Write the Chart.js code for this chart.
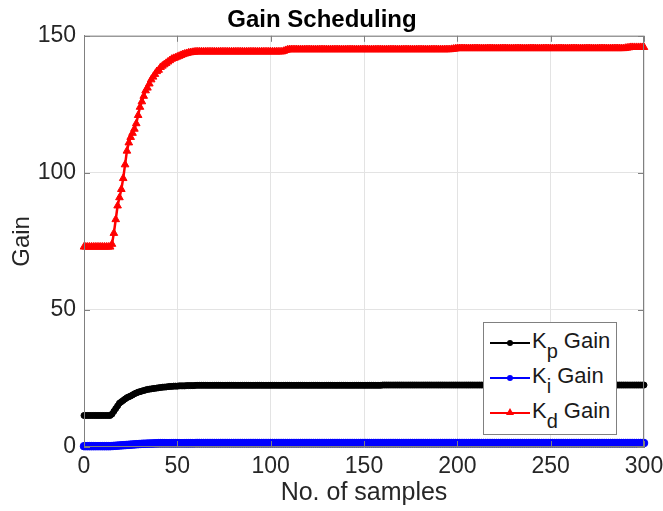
<!DOCTYPE html>
<html>
<head>
<meta charset="utf-8">
<script src="https://cdn.jsdelivr.net/npm/chart.js@4.4.1/dist/chart.umd.min.js"></script>
<style>
  body { margin: 0; background: #fff; }
  #wrap { position: relative; width: 663px; height: 511px; }
  #legend {
    position: absolute; left: 483px; top: 322px; width: 132px; height: 111px;
    background: #fff; border: 1px solid #808080;
    font-family: 'Liberation Sans', Arial, sans-serif; font-size: 22px; color: #1a1a1a;
  }
  #legend .row { position: absolute; left: 0; height: 30px; width: 100%; }
  #legend .line { position: absolute; left: 6px; top: 14px; width: 40px; height: 2px; }
  #legend .dot { position: absolute; left: 23px; top: 12px; width: 6px; height: 6px; border-radius: 50%; }
  #legend .tri { position: absolute; left: 22px; top: 10px; width: 0; height: 0;
    border-left: 4px solid transparent; border-right: 4px solid transparent; border-bottom: 7px solid; }
  #legend .txt { position: absolute; left: 48px; top: 0px; white-space: nowrap; }
  #legend sub { font-size: 20px; vertical-align: -10px; line-height: 0; margin-right: 6px; }
</style>
</head>
<body>
<div id="wrap">
  <canvas id="chart" width="663" height="511"></canvas>
  <div id="legend"></div>
</div>
<script>
// Kd gain (red, triangles), samples 0..300
const kdGain = [
  73,73,73,73,73,73,73,73,73,73,73,73,73,73,73,74,78,83,88,91,
  94,98,103,108,111,113,114.5,116,118,121,124,126,128,130,131,132.5,134,135,136,137,
  137.5,138.5,139,139.5,140,140.5,141,141.5,141.8,142,142.3,142.6,142.9,143.2,143.4,143.6,143.8,143.9,144,144.1,
  144.2,144.2,144.2,144.2,144.2,144.2,144.2,144.2,144.2,144.2,144.2,144.2,144.2,144.2,144.2,144.2,144.2,144.2,144.2,144.2,
  144.2,144.2,144.2,144.2,144.2,144.2,144.2,144.2,144.2,144.2,144.2,144.2,144.2,144.2,144.2,144.2,144.2,144.2,144.2,144.2,
  144.2,144.2,144.2,144.2,144.2,144.2,144.2,144.4,144.7,144.9,145,145,145,145,145,145,145,145,145,145,
  145,145,145,145,145,145,145,145,145,145,145,145,145,145,145,145,145,145,145,145,
  145,145,145,145,145,145,145,145,145,145,145,145,145,145,145,145,145,145,145,145,
  145,145,145,145,145,145,145,145,145,145,145,145,145,145,145,145,145,145,145,145,
  145,145,145,145,145,145,145,145,145,145,145,145,145,145,145,145,145,145.1,145.2,145.3,
  145.4,145.4,145.4,145.4,145.4,145.4,145.4,145.4,145.4,145.4,145.4,145.4,145.4,145.4,145.4,145.4,145.4,145.4,145.4,145.4,
  145.4,145.4,145.4,145.4,145.4,145.4,145.4,145.4,145.4,145.4,145.4,145.4,145.4,145.4,145.4,145.4,145.4,145.4,145.4,145.4,
  145.4,145.4,145.4,145.4,145.4,145.4,145.4,145.4,145.4,145.4,145.4,145.4,145.4,145.4,145.4,145.4,145.4,145.4,145.4,145.4,
  145.4,145.4,145.4,145.4,145.4,145.4,145.4,145.4,145.4,145.4,145.4,145.4,145.4,145.4,145.4,145.4,145.4,145.4,145.4,145.4,
  145.4,145.4,145.4,145.4,145.4,145.4,145.4,145.4,145.4,145.4,145.5,145.6,145.7,145.8,145.8,145.8,145.8,145.8,145.8,145.8,
  145.8
];

// Kp gain (black, dots)
const kpGain = [
  11.5,11.5,11.5,11.5,11.5,11.5,11.5,11.5,11.5,11.5,11.5,11.5,11.5,11.5,11.5,12,13,14,15,16,
  16.5,17,17.5,18,18.3,18.6,19,19.4,19.7,20,20.2,20.4,20.6,20.8,21,21.1,21.2,21.3,21.4,21.5,
  21.6,21.7,21.8,21.85,21.9,22,22.1,22.1,22.2,22.2,22.2,22.3,22.3,22.3,22.3,22.4,22.4,22.4,22.4,22.4,
  22.5,22.5,22.5,22.5,22.5,22.5,22.5,22.5,22.5,22.5,22.5,22.5,22.5,22.5,22.5,22.5,22.5,22.5,22.5,22.5,
  22.5,22.5,22.5,22.5,22.5,22.5,22.5,22.5,22.5,22.5,22.5,22.5,22.5,22.5,22.5,22.5,22.5,22.5,22.5,22.5,
  22.5,22.5,22.5,22.5,22.5,22.5,22.5,22.5,22.5,22.5,22.5,22.5,22.5,22.5,22.5,22.5,22.5,22.5,22.5,22.5,
  22.5,22.5,22.5,22.5,22.5,22.5,22.5,22.5,22.5,22.5,22.5,22.5,22.5,22.5,22.5,22.5,22.5,22.5,22.5,22.5,
  22.5,22.5,22.5,22.5,22.5,22.5,22.5,22.5,22.5,22.5,22.5,22.5,22.5,22.5,22.5,22.5,22.5,22.5,22.5,22.5,
  22.6,22.6,22.6,22.6,22.6,22.6,22.6,22.6,22.6,22.6,22.6,22.6,22.6,22.6,22.6,22.6,22.6,22.6,22.6,22.6,
  22.6,22.6,22.6,22.6,22.6,22.6,22.6,22.6,22.6,22.6,22.6,22.6,22.6,22.6,22.6,22.6,22.6,22.6,22.6,22.6,
  22.6,22.6,22.6,22.6,22.6,22.6,22.6,22.6,22.6,22.6,22.6,22.6,22.6,22.6,22.6,22.6,22.6,22.6,22.6,22.6,
  22.6,22.6,22.6,22.6,22.6,22.6,22.6,22.6,22.6,22.6,22.6,22.6,22.6,22.6,22.6,22.6,22.6,22.6,22.6,22.6,
  22.6,22.6,22.6,22.6,22.6,22.6,22.6,22.6,22.6,22.6,22.6,22.6,22.6,22.6,22.6,22.6,22.6,22.6,22.6,22.6,
  22.6,22.6,22.6,22.6,22.6,22.6,22.6,22.6,22.6,22.6,22.6,22.6,22.6,22.6,22.6,22.6,22.6,22.6,22.6,22.6,
  22.6,22.6,22.6,22.6,22.6,22.6,22.6,22.6,22.6,22.6,22.6,22.6,22.6,22.6,22.6,22.6,22.6,22.6,22.6,22.6,
  22.6
];

// Ki gain (blue, dots)
const kiGain = [
  0.3,0.3,0.3,0.3,0.3,0.3,0.3,0.3,0.3,0.3,0.3,0.3,0.3,0.3,0.3,0.35,0.4,0.45,0.5,0.55,
  0.6,0.65,0.7,0.75,0.8,0.85,0.9,0.95,1,1.05,1.1,1.15,1.2,1.2,1.25,1.25,1.3,1.3,1.35,1.35,
  1.4,1.4,1.4,1.4,1.4,1.4,1.4,1.4,1.4,1.4,1.4,1.4,1.4,1.4,1.4,1.4,1.4,1.4,1.4,1.4,
  1.45,1.45,1.45,1.45,1.45,1.45,1.45,1.45,1.45,1.45,1.45,1.45,1.45,1.45,1.45,1.45,1.45,1.45,1.45,1.45,
  1.45,1.45,1.45,1.45,1.45,1.45,1.45,1.45,1.45,1.45,1.45,1.45,1.45,1.45,1.45,1.45,1.45,1.45,1.45,1.45,
  1.45,1.45,1.45,1.45,1.45,1.45,1.45,1.45,1.45,1.45,1.45,1.45,1.45,1.45,1.45,1.45,1.45,1.45,1.45,1.45,
  1.45,1.45,1.45,1.45,1.45,1.45,1.45,1.45,1.45,1.45,1.45,1.45,1.45,1.45,1.45,1.45,1.45,1.45,1.45,1.45,
  1.45,1.45,1.45,1.45,1.45,1.45,1.45,1.45,1.45,1.45,1.45,1.45,1.45,1.45,1.45,1.45,1.45,1.45,1.45,1.45,
  1.45,1.45,1.45,1.45,1.45,1.45,1.45,1.45,1.45,1.45,1.45,1.45,1.45,1.45,1.45,1.45,1.45,1.45,1.45,1.45,
  1.45,1.45,1.45,1.45,1.45,1.45,1.45,1.45,1.45,1.45,1.45,1.45,1.45,1.45,1.45,1.45,1.45,1.45,1.45,1.45,
  1.45,1.45,1.45,1.45,1.45,1.45,1.45,1.45,1.45,1.45,1.45,1.45,1.45,1.45,1.45,1.45,1.45,1.45,1.45,1.45,
  1.45,1.45,1.45,1.45,1.45,1.45,1.45,1.45,1.45,1.45,1.45,1.45,1.45,1.45,1.45,1.45,1.45,1.45,1.45,1.45,
  1.45,1.45,1.45,1.45,1.45,1.45,1.45,1.45,1.45,1.45,1.45,1.45,1.45,1.45,1.45,1.45,1.45,1.45,1.45,1.45,
  1.45,1.45,1.45,1.45,1.45,1.45,1.45,1.45,1.45,1.45,1.45,1.45,1.45,1.45,1.45,1.45,1.45,1.45,1.45,1.45,
  1.45,1.45,1.45,1.45,1.45,1.45,1.45,1.45,1.45,1.45,1.45,1.45,1.45,1.45,1.45,1.45,1.45,1.45,1.45,1.45,
  1.45
];

const samples = kdGain.map((_, i) => i); // sample index 0..300
const xTicks = [0, 50, 100, 150, 200, 250, 300];
const yTicks = [0, 50, 100, 150];

const FONT = "'Liberation Sans', Arial, sans-serif";
const AXIS_GRAY = '#808080';

// MATLAB style box with inward tick marks on all four sides
const matlabBox = {
    id: 'matlabBox',
    afterDraw(chart) {
        const { ctx, chartArea: a, scales: { x, y } } = chart;
        ctx.save();
        ctx.strokeStyle = AXIS_GRAY;
        ctx.lineWidth = 1;
        ctx.strokeRect(a.left + 0.5, a.top + 0.5, a.right - a.left - 1, a.bottom - a.top - 1);
        ctx.beginPath();
        x.ticks.forEach(t => {
            const px = Math.round(x.getPixelForValue(t.value)) + 0.5;
            ctx.moveTo(px, a.bottom); ctx.lineTo(px, a.bottom - 6);
            ctx.moveTo(px, a.top); ctx.lineTo(px, a.top + 6);
        });
        y.ticks.forEach(t => {
            const py = Math.round(y.getPixelForValue(t.value)) + 0.5;
            ctx.moveTo(a.left, py); ctx.lineTo(a.left + 6, py);
            ctx.moveTo(a.right, py); ctx.lineTo(a.right - 6, py);
        });
        ctx.stroke();
        ctx.restore();
    }
};

// legend as html so the subscripts stay real text
const legendSubs = ['p', 'i', 'd'];
const htmlLegend = {
    id: 'htmlLegend',
    afterUpdate(chart) {
        const box = document.getElementById('legend');
        const order = [1, 2, 0]; // Kp, Ki, Kd
        box.innerHTML = order.map((di, row) => {
            const ds = chart.data.datasets[di];
            const marker = ds.pointStyle === 'triangle'
                ? `<span class="tri" style="border-bottom-color:${ds.borderColor}"></span>`
                : `<span class="dot" style="background:${ds.borderColor}"></span>`;
            return `<div class="row" style="top:${5 + row * 35}px">
                <span class="line" style="background:${ds.borderColor}"></span>${marker}
                <span class="txt">K<sub>${legendSubs[row]}</sub>Gain</span>
            </div>`;
        }).join('');
    }
};

const ctx = document.getElementById('chart').getContext('2d');
new Chart(ctx, {
    type: 'line',
    data: {
        labels: samples,
        datasets: [
            {
                label: 'Kd Gain', data: kdGain,
                borderColor: '#ff0000', backgroundColor: '#ff0000',
                borderWidth: 2.5, pointStyle: 'triangle', pointRadius: 4.4, pointBorderWidth: 1,
                clip: false
            },
            {
                label: 'Kp Gain', data: kpGain,
                borderColor: '#000000', backgroundColor: '#000000',
                borderWidth: 2.5, pointStyle: 'circle', pointRadius: 3, pointBorderWidth: 1,
                clip: false
            },
            {
                label: 'Ki Gain', data: kiGain,
                borderColor: '#0000ff', backgroundColor: '#0000ff',
                borderWidth: 2.5, pointStyle: 'circle', pointRadius: 3.8, pointBorderWidth: 1,
                clip: false
            }
        ]
    },
    options: {
        responsive: false,
        animation: false,
        devicePixelRatio: 1,
        layout: { padding: { left: 0, right: 19, top: 0, bottom: 0 } },
        elements: { line: { tension: 0 } },
        plugins: {
            legend: { display: false },
            tooltip: { enabled: false },
            title: {
                display: true,
                text: 'Gain Scheduling',
                color: '#000',
                font: { family: FONT, size: 24, weight: 'bold' },
                padding: { top: 6, bottom: 1 }
            }
        },
        scales: {
            x: {
                type: 'linear', min: 0, max: 300,
                afterBuildTicks: s => { s.ticks = xTicks.map(v => ({ value: v })); },
                afterFit: s => { s.height = 64; s.paddingLeft = 0; s.paddingRight = 0; },
                ticks: { color: '#262626', font: { family: FONT, size: 23 }, padding: 6, maxRotation: 0 },
                grid: { color: '#e3e3e3', drawTicks: false },
                border: { display: true, color: AXIS_GRAY },
                title: {
                    display: true, text: 'No. of samples', color: '#262626',
                    font: { family: FONT, size: 25 }, padding: { top: 0, bottom: 3 }
                }
            },
            y: {
                type: 'linear', min: 0, max: 150,
                afterBuildTicks: s => { s.ticks = yTicks.map(v => ({ value: v })); },
                afterFit: s => { s.width = 84; s.paddingTop = 0; s.paddingBottom = 0; },
                ticks: { color: '#262626', font: { family: FONT, size: 23 }, padding: 8 },
                grid: { color: '#e3e3e3', drawTicks: false },
                border: { display: true, color: AXIS_GRAY },
                title: {
                    display: true, text: 'Gain', color: '#262626',
                    font: { family: FONT, size: 24 }, padding: { top: 8, bottom: 0 }
                }
            }
        }
    },
    plugins: [matlabBox, htmlLegend]
});
</script>
</body>
</html>
